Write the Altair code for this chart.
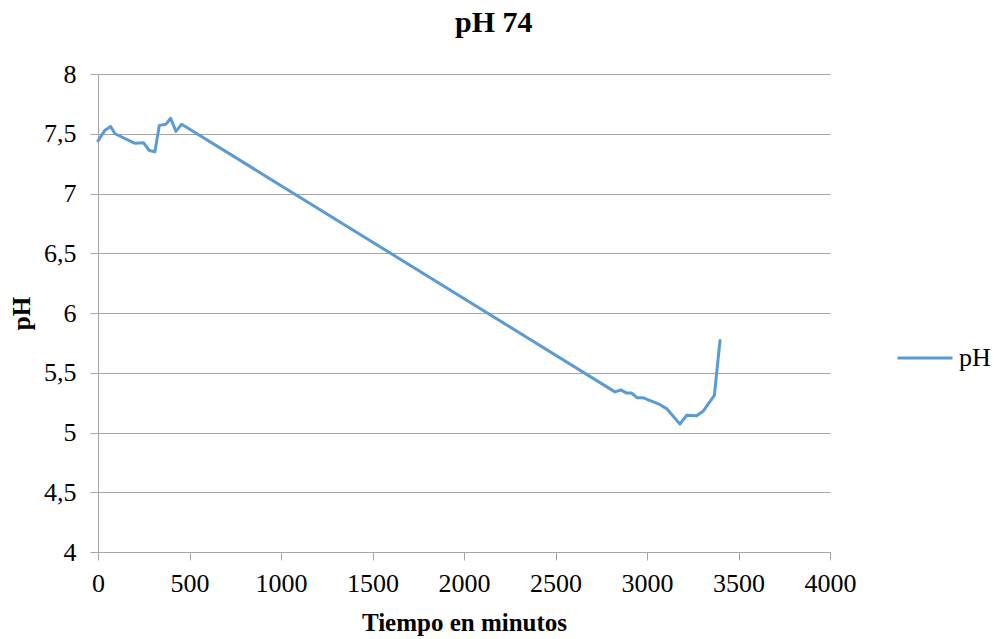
import altair as alt
import pandas as pd

minutes = [0, 38, 69, 93, 202, 248, 280, 311, 335, 372, 397, 426, 457,
           2825, 2856, 2889, 2916, 2947, 2980, 3062, 3107, 3180, 3217, 3271, 3308, 3368, 3399]
ph = [7.44, 7.53, 7.56, 7.50, 7.42, 7.425, 7.36, 7.35, 7.57, 7.58, 7.63, 7.52, 7.58,
      5.34, 5.356, 5.33, 5.33, 5.29, 5.29, 5.24, 5.20, 5.07, 5.145, 5.14, 5.18, 5.31, 5.77]
series = ["pH"] * len(minutes)

df = pd.DataFrame({"t": minutes, "ph": ph, "s": series, "order": list(range(len(minutes)))})

FONT = "Liberation Serif"

chart = alt.Chart(df).mark_line(strokeWidth=3, strokeCap="round", strokeJoin="round").encode(
    x=alt.X("t:Q", scale=alt.Scale(domain=[0, 4000], nice=False),
            axis=alt.Axis(values=[0, 500, 1000, 1500, 2000, 2500, 3000, 3500, 4000],
                          format="d", labelFont=FONT, labelFontSize=26,
                          grid=False, title="Tiempo en minutos",
                          titleY=70, titleBaseline="middle",
                          labelPadding=10, tickSize=8)),
    y=alt.Y("ph:Q", scale=alt.Scale(domain=[4, 8], nice=False, zero=False),
            axis=alt.Axis(values=[4, 4.5, 5, 5.5, 6, 6.5, 7, 7.5, 8],
                          labelExpr="replace(toString(datum.value), '.', ',')",
                          labelFont=FONT, labelFontSize=26,
                          title="pH", titleX=-77, titleBaseline="middle",
                          labelPadding=14, tickSize=8)),
    color=alt.Color("s:N", scale=alt.Scale(domain=["pH"], range=["#5B9BD5"]),
                    legend=alt.Legend(title=None, orient="none", legendX=798, legendY=255,
                                      symbolType="stroke", symbolSize=3025, symbolStrokeWidth=3,
                                      labelFont=FONT, labelFontSize=26, labelColor="black",
                                      labelOffset=5)),
    order="order:Q",
).properties(
    width=732, height=478,
    title=alt.Title("pH 74", font=FONT, fontSize=30, fontWeight="bold", color="black",
                    anchor="start", frame="group", dx=357, offset=23),
    padding={"left": 98, "top": 74, "right": 165, "bottom": 87},
    autosize=alt.AutoSizeParams(type="none"),
).configure_view(stroke=None).configure_axis(
    labelFont=FONT, labelFontSize=26, labelColor="black", labelFlush=False,
    titleFont=FONT, titleFontSize=25, titleFontWeight="bold", titleColor="black",
    tickColor="#A6A6A6", domainColor="#A6A6A6", gridColor="#A6A6A6", gridWidth=1,
)

chart.save("out.html", embed_options={"renderer": "svg", "actions": False})
